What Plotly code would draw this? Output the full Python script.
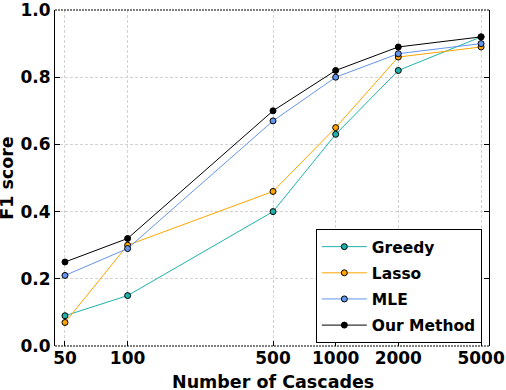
import plotly.graph_objects as go

cascades = [50, 100, 500, 1000, 2000, 5000]
tick_labels = ["50", "100", "500", "1000", "2000", "5000"]
y_ticks = [0.0, 0.2, 0.4, 0.6, 0.8, 1.0]

greedy = [0.09, 0.15, 0.40, 0.63, 0.82, 0.92]
lasso = [0.07, 0.30, 0.46, 0.65, 0.86, 0.89]
mle = [0.21, 0.29, 0.67, 0.80, 0.87, 0.90]
ours = [0.25, 0.32, 0.70, 0.82, 0.89, 0.92]

series = [
    ("Greedy", greedy, "#20b2aa"),
    ("Lasso", lasso, "#ffa500"),
    ("MLE", mle, "#6495ed"),
    ("Our Method", ours, "black"),
]

fig = go.Figure()
for name, vals, col in series:
    fig.add_trace(go.Scatter(
        x=cascades, y=vals, name=name, legendgroup=name, mode="lines+markers",
        line=dict(color=col, width=1),
        marker=dict(color=col, size=6, line=dict(color="black", width=1)),
    ))

fig.update_layout(
    width=506, height=390,
    margin=dict(l=55, r=17, t=10, b=44),
    paper_bgcolor="white", plot_bgcolor="white",
    font=dict(family="DejaVu Sans", size=17, color="black", weight="bold"),
    legend=dict(x=0.601, y=0.348, xanchor="left", yanchor="top",
                bordercolor="black", borderwidth=1, bgcolor="white",
                font=dict(family="DejaVu Sans", size=15.5, weight="bold"),
                itemwidth=45, tracegroupgap=3),
    xaxis=dict(type="log", range=[1.651, 3.737], automargin=False,
               tickvals=cascades, ticktext=tick_labels,
               ticks="inside", ticklen=5, tickcolor="black",
               ticklabeloverflow="allow",
               showgrid=True, gridcolor="#d3d3d3", griddash="3px,2px", gridwidth=1,
               zeroline=False, showline=False),
    yaxis=dict(range=[0, 1], automargin=False, tickvals=y_ticks,
               tickformat=".1f", ticklabeloverflow="allow",
               ticks="inside", ticklen=5, tickcolor="black",
               showline=True, linecolor="black", linewidth=1, mirror="ticks",
               showgrid=True, gridcolor="#d3d3d3", griddash="3px,2px", gridwidth=1,
               zeroline=False),
)

# axis titles
fig.add_annotation(text="Number of Cascades", xref="paper", yref="paper",
                   x=0.502, y=-0.07, xanchor="center", yanchor="top",
                   showarrow=False, font=dict(size=17.5))
fig.add_annotation(text="F1 score", xref="paper", yref="paper",
                   x=-0.111, y=0.5, xanchor="center", yanchor="middle",
                   textangle=-90, showarrow=False, font=dict(size=17.5))

# dotted top/bottom frame
for yv in (0, 1):
    fig.add_shape(type="line", xref="paper", yref="paper",
                  x0=0, x1=1, y0=yv, y1=yv,
                  line=dict(color="black", width=1, dash="2px,1px"))

fig.write_html("out.html", config={"displayModeBar": False},
               post_script="document.body.style.margin='0';")
